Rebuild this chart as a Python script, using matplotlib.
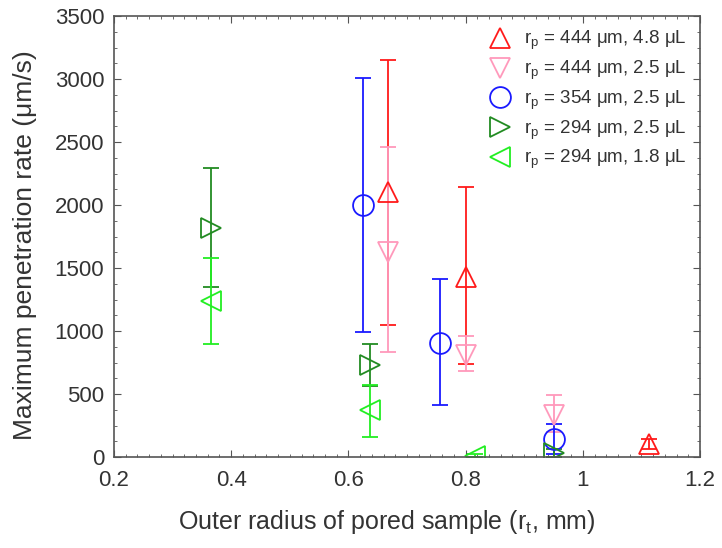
import numpy as np
import matplotlib.pyplot as plt
from matplotlib.ticker import MultipleLocator

plt.rcParams['font.family'] = ['Liberation Sans', 'DejaVu Sans']
plt.rcParams['mathtext.fontset'] = 'custom'
plt.rcParams['mathtext.rm'] = 'Liberation Sans'
plt.rcParams['mathtext.it'] = 'Liberation Sans:italic'

# series: x (mm), y (um/s), lower / upper error bar ends
labels = [r'r$_\mathrm{p}$ = 444 μm, 4.8 μL',
          r'r$_\mathrm{p}$ = 444 μm, 2.5 μL',
          r'r$_\mathrm{p}$ = 354 μm, 2.5 μL',
          r'r$_\mathrm{p}$ = 294 μm, 2.5 μL',
          r'r$_\mathrm{p}$ = 294 μm, 1.8 μL']
colors = ['#ff1a1a', '#ff99bb', '#1a1aff', '#228b22', '#22ee22']
markers = ['^', 'v', 'o', '>', '<']

x_444_48 = [0.668, 0.801, 1.113]
y_444_48 = [2100, 1430, 100]
lo_444_48 = [1050, 735, 60]
hi_444_48 = [3150, 2140, 140]

x_444_25 = [0.668, 0.801, 0.951]
y_444_25 = [1630, 810, 330]
lo_444_25 = [830, 680, 200]
hi_444_25 = [2460, 960, 490]

x_354 = [0.625, 0.756, 0.951]
y_354 = [2000, 905, 140]
lo_354 = [990, 410, 20]
hi_354 = [3010, 1410, 260]

x_294_25 = [0.366, 0.637, 0.951]
y_294_25 = [1820, 730, 30]
lo_294_25 = [1350, 560, 0]
hi_294_25 = [2290, 900, 60]

x_294_18 = [0.366, 0.637, 0.816]
y_294_18 = [1240, 370, 10]
lo_294_18 = [895, 160, 0]
hi_294_18 = [1580, 570, 20]

series = [(x_444_48, y_444_48, lo_444_48, hi_444_48),
          (x_444_25, y_444_25, lo_444_25, hi_444_25),
          (x_354, y_354, lo_354, hi_354),
          (x_294_25, y_294_25, lo_294_25, hi_294_25),
          (x_294_18, y_294_18, lo_294_18, hi_294_18)]

txt = '#333333'
fig = plt.figure(figsize=(7.22, 5.48), dpi=100)
ax = fig.add_axes([114 / 722, 1 - 457 / 548, 586 / 722, 441 / 548])

handles = []
for (x, y, lo, hi), c, m, lab in zip(series, colors, markers, labels):
    y = np.array(y)
    yerr = [y - np.array(lo), np.array(hi) - y]
    cont = ax.errorbar(x, y, yerr=yerr, fmt=m, color=c, ecolor=c, mfc='none', mec=c,
                       ms=15, mew=1.3, elinewidth=1.3, capsize=6, capthick=1.3, label=lab)
    handles.append(cont[0])

ax.set_xlim(0.2, 1.2)
ax.set_ylim(0, 3500)
ax.xaxis.set_minor_locator(MultipleLocator(0.02))
ax.yaxis.set_major_locator(MultipleLocator(500))
ax.yaxis.set_minor_locator(MultipleLocator(125))
ax.set_xticks([0.2, 0.4, 0.6, 0.8, 1.0, 1.2], ['0.2', '0.4', '0.6', '0.8', '1', '1.2'])
ax.tick_params(which='both', direction='in', top=True, right=True, labelsize=16,
               colors='#555555', labelcolor=txt)
ax.tick_params(axis='x', pad=9)
ax.tick_params(axis='y', pad=7)
ax.tick_params(which='major', length=5)
ax.tick_params(which='minor', length=2.5)
for s in ax.spines.values():
    s.set_linewidth(1.2)
    s.set_color('#555555')

ax.set_xlabel(r'Outer radius of pored sample (r$_\mathrm{t}$, mm)', fontsize=18, color=txt)
ax.set_ylabel('Maximum penetration rate (μm/s)', fontsize=19, color=txt)
ax.xaxis.set_label_coords(0.465, -0.148)
ax.yaxis.set_label_coords(-0.152, 0.48)
ax.yaxis.label.set_va('center')
ax.xaxis.label.set_va('center')

leg = ax.legend(handles, labels, loc='upper right', frameon=False, fontsize=13.5,
                handletextpad=0.6, labelspacing=0.35, borderaxespad=0.3, handlelength=1.4)
for t in leg.get_texts():
    t.set_color(txt)

fig.savefig('out.png', dpi=100)
